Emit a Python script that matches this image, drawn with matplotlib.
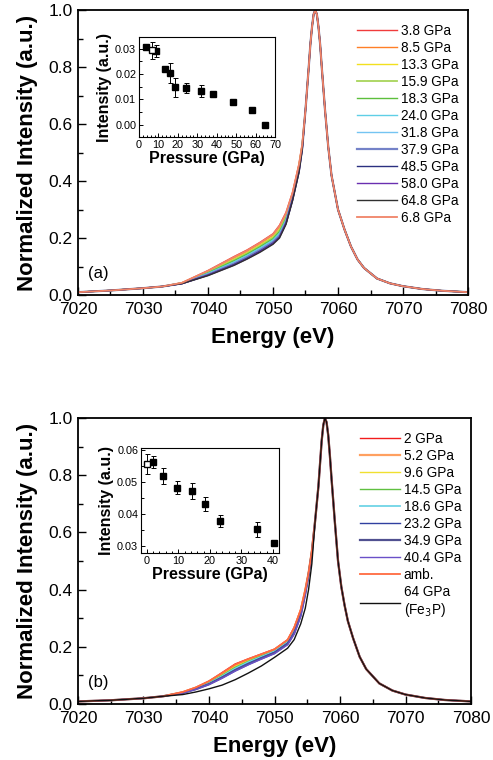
import matplotlib
matplotlib.use("Agg")
import matplotlib.pyplot as plt
from matplotlib.ticker import MultipleLocator, FormatStrFormatter

plt.rcParams['font.family'] = ['Liberation Sans', 'DejaVu Sans']

# ---------------- panel (a) spectra ----------------
left_e_a = [7020, 7025, 7030, 7033]
left_i_a = [0.010, 0.016, 0.024, 0.030]
shoulder_e_a = [7036, 7040, 7044, 7046, 7048, 7050, 7051, 7052, 7053, 7054, 7054.5]
right_e_a = [7055, 7055.5, 7055.75, 7056, 7056.25, 7056.5, 7056.75, 7057, 7057.25,
             7057.5, 7058, 7058.5, 7059, 7059.5, 7060, 7061, 7062, 7063, 7064,
             7066, 7068, 7070, 7073, 7076, 7080]
right_i_a = [0.65, 0.80, 0.88, 0.94, 0.985, 1.0, 0.985, 0.94, 0.88,
             0.80, 0.65, 0.52, 0.42, 0.36, 0.30, 0.23, 0.17, 0.125, 0.095,
             0.058, 0.041, 0.031, 0.021, 0.015, 0.010]

labels_a = ["3.8 GPa", "8.5 GPa", "13.3 GPa", "15.9 GPa", "18.3 GPa", "24.0 GPa",
            "31.8 GPa", "37.9 GPa", "48.5 GPa", "58.0 GPa", "64.8 GPa", "6.8 GPa"]
colors_a = ["#f03c3c", "#ff7f27", "#f2e01e", "#a8d45a", "#5cbf3c", "#5fcfe6",
            "#74c4f2", "#7482c8", "#2b3080", "#6a2fb0", "#303030", "#f08468"]
widths_a = [1.0, 1.0, 1.0, 1.3, 1.0, 1.0, 1.0, 1.6, 1.0, 1.0, 1.0, 1.3]
shoulder_a = [
    [0.043, 0.086, 0.135, 0.158, 0.185, 0.215, 0.245, 0.290, 0.360, 0.460, 0.530],
    [0.043, 0.083, 0.130, 0.153, 0.180, 0.210, 0.238, 0.283, 0.355, 0.456, 0.528],
    [0.042, 0.081, 0.126, 0.149, 0.176, 0.205, 0.232, 0.278, 0.352, 0.453, 0.526],
    [0.042, 0.079, 0.123, 0.146, 0.172, 0.201, 0.227, 0.273, 0.349, 0.450, 0.524],
    [0.042, 0.078, 0.120, 0.143, 0.169, 0.197, 0.222, 0.268, 0.346, 0.447, 0.522],
    [0.041, 0.076, 0.116, 0.139, 0.165, 0.193, 0.217, 0.264, 0.343, 0.444, 0.520],
    [0.041, 0.074, 0.113, 0.136, 0.161, 0.189, 0.212, 0.260, 0.340, 0.441, 0.518],
    [0.041, 0.072, 0.110, 0.133, 0.158, 0.186, 0.208, 0.256, 0.337, 0.438, 0.516],
    [0.040, 0.070, 0.107, 0.129, 0.154, 0.182, 0.204, 0.252, 0.334, 0.435, 0.514],
    [0.040, 0.069, 0.105, 0.127, 0.152, 0.180, 0.202, 0.250, 0.332, 0.432, 0.512],
    [0.040, 0.068, 0.104, 0.126, 0.150, 0.178, 0.200, 0.248, 0.330, 0.430, 0.510],
    [0.043, 0.085, 0.133, 0.156, 0.183, 0.213, 0.242, 0.287, 0.358, 0.458, 0.529],
]

# ---------------- panel (a) inset ----------------
p_a = [3.8, 8.5, 13.3, 15.9, 18.3, 24.0, 31.8, 37.9, 48.5, 58.0, 64.8]
int_a = [0.0307, 0.0292, 0.0220, 0.0205, 0.0147, 0.0143, 0.0133, 0.0121, 0.0091, 0.0059, 0.0000]
err_a = [0.0010, 0.0023, 0.0004, 0.0040, 0.0039, 0.0020, 0.0025, 0.0004, 0.0002, 0.0002, 0.0002]
p_a_open = [6.8]
int_a_open = [0.0293]
err_a_open = [0.0035]

# ---------------- panel (b) spectra ----------------
left_e_b = [7020, 7025, 7030, 7033]
left_i_b = [0.009, 0.013, 0.020, 0.027]
shoulder_e_b = [7036, 7038, 7040, 7042, 7044, 7046, 7048, 7050, 7052, 7053, 7054,
                7054.7, 7055.2, 7055.7]
right_e_b = [7056.2, 7056.7, 7056.95, 7057.2, 7057.45, 7057.7, 7057.95, 7058.2,
             7058.45, 7058.7, 7059.2, 7059.7, 7060.2, 7060.7, 7061.2, 7062, 7063,
             7064, 7066, 7068, 7070, 7073, 7076, 7080]
right_i_b = [0.64, 0.76, 0.84, 0.92, 0.975, 1.0, 0.985, 0.94,
             0.87, 0.79, 0.64, 0.50, 0.41, 0.345, 0.29, 0.23, 0.165,
             0.122, 0.072, 0.047, 0.033, 0.021, 0.014, 0.009]

labels_b = ["2 GPa", "5.2 GPa", "9.6 GPa", "14.5 GPa", "18.6 GPa", "23.2 GPa",
            "34.9 GPa", "40.4 GPa", "amb.", "64 GPa\n(Fe$_3$P)"]
colors_b = ["#f21c1c", "#ffa060", "#f0e030", "#60c040", "#70d4e6", "#3040a0",
            "#505090", "#6a50c8", "#ff6a40", "#111111"]
widths_b = [1.0, 1.6, 1.0, 1.0, 1.3, 1.0, 1.6, 1.0, 1.3, 1.0]
shoulder_b = [
    [0.042, 0.058, 0.080, 0.110, 0.140, 0.158, 0.175, 0.192, 0.225, 0.268, 0.330, 0.400, 0.460, 0.535],
    [0.041, 0.057, 0.078, 0.106, 0.135, 0.155, 0.172, 0.190, 0.222, 0.264, 0.327, 0.398, 0.458, 0.534],
    [0.041, 0.056, 0.076, 0.103, 0.132, 0.152, 0.170, 0.188, 0.220, 0.261, 0.324, 0.396, 0.457, 0.533],
    [0.040, 0.055, 0.074, 0.100, 0.128, 0.149, 0.168, 0.186, 0.218, 0.258, 0.321, 0.394, 0.456, 0.532],
    [0.040, 0.054, 0.072, 0.097, 0.124, 0.146, 0.165, 0.184, 0.216, 0.255, 0.318, 0.392, 0.455, 0.531],
    [0.039, 0.053, 0.070, 0.094, 0.120, 0.142, 0.162, 0.181, 0.213, 0.251, 0.314, 0.389, 0.453, 0.530],
    [0.039, 0.052, 0.069, 0.092, 0.117, 0.139, 0.159, 0.178, 0.210, 0.247, 0.310, 0.386, 0.451, 0.529],
    [0.038, 0.051, 0.068, 0.090, 0.115, 0.137, 0.157, 0.176, 0.207, 0.244, 0.306, 0.383, 0.449, 0.528],
    [0.042, 0.058, 0.080, 0.108, 0.138, 0.157, 0.174, 0.191, 0.224, 0.266, 0.329, 0.399, 0.459, 0.535],
    [0.033, 0.042, 0.053, 0.066, 0.085, 0.108, 0.133, 0.163, 0.195, 0.225, 0.280, 0.335, 0.400, 0.490],
]

# ---------------- panel (b) inset ----------------
p_b = [2, 5.2, 9.6, 14.5, 18.6, 23.2, 34.9, 40.4]
int_b = [0.0562, 0.0518, 0.0482, 0.0471, 0.0431, 0.0379, 0.0353, 0.0310]
err_b = [0.0019, 0.0024, 0.0020, 0.0024, 0.0021, 0.0018, 0.0023, 0.0002]
p_b_open = [0]
int_b_open = [0.0556]
err_b_open = [0.0032]

fig = plt.figure(figsize=(4.93, 7.6), dpi=100)


def style_main(ax):
    ax.set_xlim(7020, 7080)
    ax.set_ylim(0, 1.0)
    ax.xaxis.set_major_locator(MultipleLocator(10))
    ax.xaxis.set_minor_locator(MultipleLocator(5))
    ax.yaxis.set_major_locator(MultipleLocator(0.2))
    ax.yaxis.set_minor_locator(MultipleLocator(0.1))
    ax.yaxis.set_major_formatter(FormatStrFormatter('%.1f'))
    ax.tick_params(which='both', direction='in', top=False, right=False,
                   labelsize=12.5, pad=4, width=1.0)
    ax.tick_params(axis='x', pad=5)
    ax.tick_params(which='major', length=6)
    ax.tick_params(which='minor', length=3.5)
    for s in ax.spines.values():
        s.set_linewidth(1.3)
    ax.set_xlabel("Energy (eV)", fontsize=16, fontweight='bold', labelpad=7)
    ax.set_ylabel("Normalized Intensity (a.u.)", fontsize=16, fontweight='bold', labelpad=7)


def style_inset(ax):
    ax.tick_params(which='both', direction='in', top=False, right=False,
                   labelsize=7.8, pad=2, width=0.7)
    ax.tick_params(which='major', length=3)
    ax.tick_params(which='minor', length=1.8)
    for s in ax.spines.values():
        s.set_linewidth(0.8)
    ax.yaxis.set_major_formatter(FormatStrFormatter('%.2f'))
    ax.set_xlabel("Pressure (GPa)", fontsize=11.5, fontweight='bold', labelpad=1)
    ax.set_ylabel("Intensity (a.u.)", fontsize=11.5, fontweight='bold', labelpad=2)


# panel (a)
ax1 = fig.add_axes([0.1582, 0.6118, 0.7911, 0.375])
for i in range(len(labels_a)):
    e = left_e_a + shoulder_e_a + right_e_a
    y = left_i_a + shoulder_a[i] + right_i_a
    ax1.plot(e, y, color=colors_a[i], lw=widths_a[i], label=labels_a[i])
style_main(ax1)
ax1.text(0.025, 0.06, "(a)", transform=ax1.transAxes, fontsize=12)
ax1.legend(loc='upper right', frameon=False, fontsize=9.8, handlelength=2.9,
           handletextpad=0.3, labelspacing=0.22, borderaxespad=0.3,
           bbox_to_anchor=(1.0, 0.985))

ins1 = fig.add_axes([0.282, 0.8197, 0.2759, 0.1316])
ins1.errorbar(p_a, int_a, yerr=err_a, fmt='s', color='black', ms=4.2,
              ecolor='black', elinewidth=0.7, capsize=1.8, capthick=0.7)
ins1.errorbar(p_a_open, int_a_open, yerr=err_a_open, fmt='s', mfc='white', mec='black',
              ms=4.2, ecolor='black', elinewidth=0.7, capsize=1.8, capthick=0.7)
ins1.set_xlim(0, 70)
ins1.set_ylim(-0.0049, 0.0346)
ins1.xaxis.set_major_locator(MultipleLocator(10))
ins1.xaxis.set_minor_locator(MultipleLocator(2))
ins1.yaxis.set_major_locator(MultipleLocator(0.01))
ins1.yaxis.set_minor_locator(MultipleLocator(0.005))
style_inset(ins1)

# panel (b)
ax2 = fig.add_axes([0.1582, 0.0737, 0.7972, 0.3763])
for i in range(len(labels_b)):
    e = left_e_b + shoulder_e_b + right_e_b
    y = left_i_b + shoulder_b[i] + right_i_b
    ax2.plot(e, y, color=colors_b[i], lw=widths_b[i], label=labels_b[i])
style_main(ax2)
ax2.text(0.025, 0.06, "(b)", transform=ax2.transAxes, fontsize=12)
ax2.legend(loc='upper right', frameon=False, fontsize=9.8, handlelength=2.9,
           handletextpad=0.3, labelspacing=0.22, borderaxespad=0.3,
           bbox_to_anchor=(1.0, 0.985))

ins2 = fig.add_axes([0.286, 0.2724, 0.28, 0.138])
ins2.errorbar(p_b, int_b, yerr=err_b, fmt='s', color='black', ms=4.2,
              ecolor='black', elinewidth=0.7, capsize=1.8, capthick=0.7)
ins2.errorbar(p_b_open, int_b_open, yerr=err_b_open, fmt='s', mfc='white', mec='black',
              ms=4.2, ecolor='black', elinewidth=0.7, capsize=1.8, capthick=0.7)
ins2.set_xlim(-1.8, 41.9)
ins2.set_ylim(0.0279, 0.0605)
ins2.xaxis.set_major_locator(MultipleLocator(10))
ins2.xaxis.set_minor_locator(MultipleLocator(2))
ins2.yaxis.set_major_locator(MultipleLocator(0.01))
ins2.yaxis.set_minor_locator(MultipleLocator(0.005))
style_inset(ins2)

fig.savefig("out.png", dpi=100)
